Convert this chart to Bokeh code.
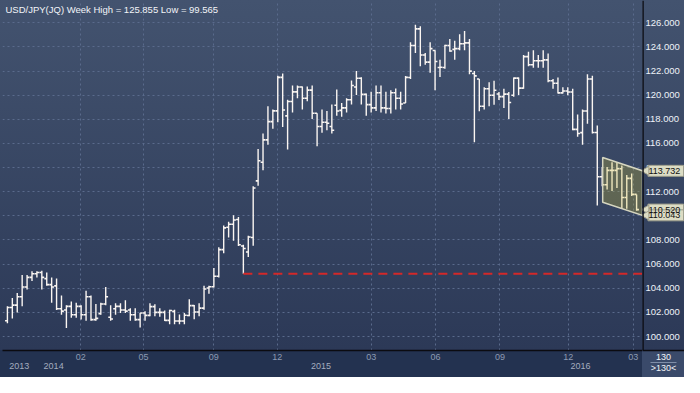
import math
from bokeh.plotting import figure
from bokeh.layouts import row
from bokeh.models import FixedTicker, Label, Range1d, ColumnDataSource, LinearAxis, Span
from bokeh.transform import dodge
from bokeh.core.properties import value
from bokeh.embed import file_html
from bokeh.resources import INLINE

# ---------------- data ----------------
bar_open = [101.3, 102.4, 102.6, 103.3, 104.1, 104.9, 105.2, 105.3, 104.8, 104.3,
            104.2, 102.3, 102.2, 102.5, 101.8, 102.5, 101.8, 103.3, 101.4, 101.9,
            102.7, 101.6, 102.3, 102.5, 102.2, 102.2, 101.8, 101.4, 101.95, 101.75,
            102.48, 102.0, 102.0, 101.34, 102.08, 101.28, 101.28, 101.74, 102.56, 102.03,
            102.35, 104.02, 104.13, 105.0, 107.2, 109.05, 109.31, 109.7, 107.5, 107.0,
            108.2, 112.9, 114.44, 116.3, 117.81, 118.7, 121.48, 118.29, 119.48, 120.28,
            120.68, 119.75, 120.42, 118.5, 117.41, 117.76, 117.41, 119.17, 118.74, 118.95,
            119.62, 120.68, 121.4, 120.07, 119.22, 118.95, 120.2, 118.95, 118.9, 120.2,
            119.75, 119.35, 121.47, 124.12, 125.5, 123.33, 122.74, 123.7, 122.3, 122.3,
            124.12, 123.8, 123.86, 124.26, 124.34, 121.8, 121.34, 119.08, 120.54, 120.0,
            120.1, 119.88, 120.09, 120.0, 121.42, 120.59, 123.2, 122.53, 122.85, 122.85,
            122.93, 121.2, 120.99, 120.19, 120.35, 120.27, 117.17, 116.9, 118.69, 121.34,
            116.91, 113.24, 112.58, 113.77, 113.77, 113.9, 111.52, 113.11, 111.78]
bar_high = [102.5, 103.2, 103.6, 105.1, 105.1, 105.4, 105.4, 105.45, 105.3, 104.9,
            104.8, 103.4, 102.6, 102.9, 102.8, 102.6, 103.8, 103.4, 102.7, 102.8,
            104.1, 102.6, 102.75, 102.75, 103.0, 102.35, 102.35, 101.95, 102.1, 102.75,
            102.67, 102.35, 102.16, 102.21, 102.21, 101.82, 101.95, 103.09, 102.61, 102.75,
            104.21, 104.21, 105.67, 107.4, 109.2, 109.52, 110.06, 109.9, 107.6, 108.35,
            112.45, 115.55, 116.83, 119.09, 118.82, 121.61, 121.8, 119.62, 120.81, 120.81,
            120.73, 120.73, 120.81, 118.5, 118.82, 118.69, 119.22, 120.47, 119.35, 119.75,
            121.21, 122.01, 121.48, 120.15, 120.28, 120.81, 120.81, 120.28, 120.42, 120.55,
            120.28, 121.6, 124.39, 125.85, 125.72, 123.5, 124.39, 123.73, 122.93, 124.18,
            124.66, 124.52, 125.05, 125.32, 124.66, 122.0, 121.34, 120.67, 121.07, 121.2,
            120.27, 120.54, 120.27, 121.47, 121.47, 123.33, 123.6, 123.73, 123.33, 123.73,
            123.46, 121.34, 121.47, 120.67, 120.67, 120.54, 118.41, 118.81, 121.74, 121.61,
            117.49, 114.04, 114.04, 114.44, 114.44, 114.17, 113.38, 113.51, 111.78]
bar_low = [101.1, 101.5, 102.0, 102.5, 103.9, 104.6, 104.9, 103.9, 104.2, 102.8,
           102.2, 101.8, 100.7, 101.55, 101.55, 101.4, 101.3, 101.3, 101.3, 101.8,
           102.6, 101.3, 101.8, 101.95, 101.95, 101.3, 101.3, 100.75, 101.3, 101.68,
           101.68, 101.63, 101.28, 101.02, 101.02, 101.02, 101.02, 101.68, 101.42, 101.68,
           102.21, 103.54, 104.07, 104.9, 106.9, 108.2, 107.93, 107.5, 105.2, 106.6,
           107.53, 112.5, 113.77, 115.9, 117.23, 117.76, 117.36, 115.5, 118.56, 119.75,
           118.82, 119.49, 118.03, 115.77, 116.88, 117.1, 116.83, 118.29, 118.21, 118.56,
           119.22, 120.02, 119.22, 118.29, 118.56, 118.69, 118.56, 118.48, 118.48, 118.82,
           118.82, 119.35, 121.34, 123.5, 122.4, 122.53, 121.87, 120.41, 121.5, 122.2,
           123.6, 122.93, 123.73, 123.73, 121.73, 116.1, 118.68, 118.81, 119.08, 119.21,
           119.61, 118.95, 118.02, 119.88, 120.01, 120.54, 122.4, 122.27, 122.27, 122.27,
           121.07, 120.54, 120.14, 120.14, 120.0, 117.09, 116.56, 115.89, 117.63, 116.83,
           110.85, 112.45, 112.18, 112.05, 112.31, 110.59, 110.59, 111.65, 110.42]
bar_close = [102.4, 102.6, 103.3, 104.1, 104.9, 105.2, 105.3, 104.9, 104.3, 104.1,
             102.3, 102.1, 102.5, 101.8, 102.5, 101.8, 103.3, 101.4, 101.5, 102.7,
             103.3, 101.45, 102.5, 102.2, 102.1, 101.8, 101.4, 101.95, 101.75, 102.48,
             102.0, 102.0, 101.34, 102.16, 101.28, 101.28, 101.76, 102.56, 102.03, 102.35,
             103.94, 104.13, 105.0, 107.2, 109.0, 109.31, 109.66, 107.6, 107.3, 108.25,
             112.31, 114.57, 116.3, 117.81, 118.7, 121.48, 118.77, 119.48, 120.28, 120.68,
             119.75, 120.42, 118.5, 117.41, 117.76, 117.68, 117.1, 118.69, 118.95, 119.62,
             120.81, 121.4, 120.07, 119.22, 118.95, 120.2, 118.95, 118.9, 120.2, 119.75,
             119.27, 121.48, 124.12, 125.5, 123.33, 122.74, 123.86, 122.8, 122.32, 124.12,
             123.67, 123.86, 124.26, 124.34, 122.0, 121.6, 119.08, 120.54, 120.0, 120.41,
             119.88, 120.09, 119.4, 121.42, 120.59, 123.2, 122.53, 122.85, 122.85, 122.93,
             121.2, 120.99, 120.19, 120.35, 120.27, 117.17, 116.82, 118.69, 121.34, 116.91,
             113.24, 112.58, 113.77, 113.77, 113.9, 111.52, 113.11, 111.78, 110.52]
bar_index = list(range(len(bar_close)))

month_tick_bar = [14.9, 27.7, 42.0, 54.9, 74.0, 87.1, 100.2, 114.1, 127.3]
month_tick_labels = ["02", "05", "09", "12", "03", "06", "09", "12", "03"]
year_label_bar = [2.4, 9.4, 63.8, 116.6]
year_labels = ["2013", "2014", "2015", "2016"]
price_ticks = [100, 102, 104, 106, 108, 110, 112, 114, 116, 118, 120, 122, 124, 126]

support_level = 105.2
support_start_bar = 48
channel_bar = [121.1, 129.2]
channel_top = [114.84, 113.732]
channel_bottom = [111.13, 110.043]

title_text = "USD/JPY(JQ) Week  High = 125.855 Low = 99.565"
bars_shown = "130"

# ---------------- styling constants ----------------
FONT = "Liberation Sans"
BAR = "#fbf6f2"
AXIS_DARK = "#0b0b10"
GRAD = "linear-gradient(to bottom, #43536f 0px, #2c3957 350px, {s} 350px, {s} 100%)"
X_RANGE = Range1d(-1, channel_bar[1])
Y_RANGE = Range1d(98.84, 127.85)

# ---------------- main chart ----------------
p = figure(width=642, height=377, output_backend="svg", toolbar_location=None,
           x_range=X_RANGE, y_range=Y_RANGE, y_axis_location="right",
           min_border_left=2, min_border_right=0, min_border_top=0, min_border_bottom=27)
p.background_fill_alpha = 0
p.border_fill_alpha = 0
p.outline_line_color = None
p.styles = {"background": GRAD.format(s="#233250")}

p.yaxis.visible = False
p.ygrid.ticker = FixedTicker(ticks=price_ticks)

def style_x_axis(ax, color, standoff):
    ax.major_label_text_color = color
    ax.major_label_text_font = FONT
    ax.major_label_text_font_size = "9px"
    ax.major_tick_line_color = None
    ax.minor_tick_line_color = None
    ax.major_tick_out = 0
    ax.major_tick_in = 0
    ax.minor_tick_out = 0
    ax.minor_tick_in = 0
    ax.major_label_standoff = standoff

p.xaxis.ticker = FixedTicker(ticks=month_tick_bar)
p.xaxis.major_label_overrides = {t: l for t, l in zip(month_tick_bar, month_tick_labels)}
p.xaxis.axis_line_color = AXIS_DARK
p.xaxis.axis_line_width = 1.5
style_x_axis(p.xaxis[0], "#8d9ab2", 3)
p.xgrid.ticker = FixedTicker(ticks=month_tick_bar)

year_axis = LinearAxis(ticker=FixedTicker(ticks=year_label_bar),
                       major_label_overrides={t: l for t, l in zip(year_label_bar, year_labels)},
                       axis_line_color=None)
style_x_axis(year_axis, "#a3adbf", 0)
p.add_layout(year_axis, "below")

for g in (p.xgrid, p.ygrid):
    g.grid_line_color = "#5a6b8c"
    g.grid_line_dash = "2 3"
    g.grid_line_width = 1

# OHLC bars
src = ColumnDataSource(dict(x=bar_index, o=bar_open, h=bar_high, l=bar_low, c=bar_close))
p.segment(x0="x", y0="l", x1="x", y1="h", source=src, line_color=BAR, line_width=1.4)
p.segment(x0=dodge("x", -0.48), y0="o", x1="x", y1="o", source=src, line_color=BAR, line_width=1.6)
p.segment(x0="x", y0="c", x1=dodge("x", 0.48), y1="c", source=src, line_color=BAR, line_width=1.6)

# support line
p.line(x=[support_start_bar, channel_bar[1]], y=[support_level, support_level],
       line_color="#d42828", line_width=2, line_dash="9 6")

# channel
p.patch(x=[channel_bar[0], channel_bar[1], channel_bar[1], channel_bar[0]],
        y=[channel_top[0], channel_top[1], channel_bottom[1], channel_bottom[0]],
        fill_color="#cfc030", fill_alpha=0.27, line_color="#d6d6c0", line_width=1.5)

# title (anchored to the top of the value range)
p.add_layout(Label(x=3, y=Y_RANGE.end, x_units="screen", y_units="data", y_offset=-3,
                   text=title_text, text_font=FONT, text_font_size="9.5px",
                   text_color="#f2f4f8", text_baseline="top"))

# ---------------- price panel (right) ----------------
q = figure(width=42, height=377, output_backend="svg", toolbar_location=None,
           x_range=Range1d(0, 1), y_range=Y_RANGE, x_axis_location="below",
           y_axis_location=None,
           min_border_left=0, min_border_right=0, min_border_top=0, min_border_bottom=27)
q.background_fill_alpha = 0
q.border_fill_alpha = 0
q.outline_line_color = None
q.styles = {"background": GRAD.format(s="#3a4a6a")}
q.grid.visible = False

q.xaxis.ticker = FixedTicker(ticks=[0.5])
q.xaxis.major_label_overrides = {0.5: bars_shown}
q.xaxis.axis_line_color = AXIS_DARK
q.xaxis.axis_line_width = 1.5
style_x_axis(q.xaxis[0], "#f2f4f8", 3)
shown_axis = LinearAxis(ticker=FixedTicker(ticks=[0.5]),
                        major_label_overrides={0.5: ">" + bars_shown + "<"},
                        axis_line_color="#7f8ea8", bounds=(0.2, 0.8))
style_x_axis(shown_axis, "#f2f4f8", 0)
q.add_layout(shown_axis, "below")

q.add_layout(Span(location=0, dimension="height", line_color=AXIS_DARK, line_width=2.5))

q.text(x=[0.07] * len(price_ticks), y=price_ticks, text=[f"{t:.3f}" for t in price_ticks],
       text_font=value(FONT), text_font_size="9.5px", text_color="#eef2f8",
       text_baseline="middle", text_align="left")

tag_values = [bar_close[-1], channel_top[1], channel_bottom[1]]
q.rect(x=[0.555] * 3, y=tag_values, width=0.85, height=[11] * 3, height_units="screen",
       fill_color="#dcdcc4", line_color="#9c9c8a", line_width=1)
q.scatter(x=[0.09] * 3, y=tag_values, marker="triangle", angle=math.pi / 2, size=9,
          fill_color="#dcdcc4", line_color="#9c9c8a")
q.text(x=[0.14] * 3, y=tag_values, text=[f"{v:.3f}" for v in tag_values],
       text_font=value(FONT), text_font_size="9px", text_color="#101010",
       text_baseline="middle", text_align="left")

layout = row(p, q)
open("out.html", "w").write(file_html(layout, INLINE))
